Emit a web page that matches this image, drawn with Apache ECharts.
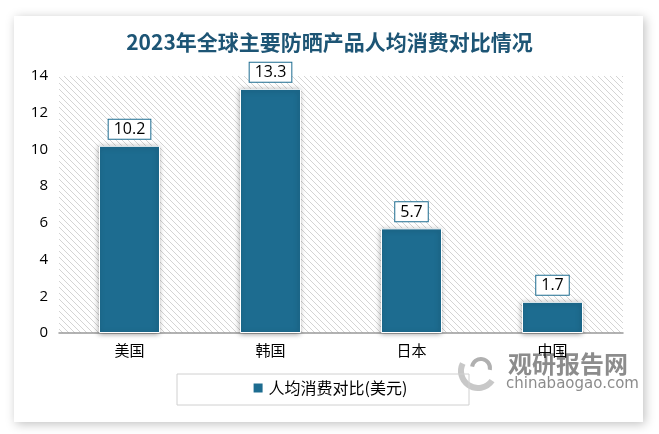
<!DOCTYPE html>
<html><head><meta charset="utf-8">
<script src="https://cdn.jsdelivr.net/npm/echarts@6/dist/echarts.min.js"></script>
<style>html,body{margin:0;padding:0;background:#fff}#c{width:659px;height:434px}</style>
</head><body><div id="c"></div>
<script>
const titleText = '2023年全球主要防晒产品人均消费对比情况';
const categories = ['美国', '韩国', '日本', '中国'];
const values = [10.2, 13.3, 5.7, 1.7];
const seriesName = '人均消费对比(美元)';
const yTicks = [0, 2, 4, 6, 8, 10, 12, 14];

function hatch() {
  const c = document.createElement('canvas');
  c.width = 6; c.height = 6;
  const g = c.getContext('2d');
  g.fillStyle = '#ffffff'; g.fillRect(0, 0, 6, 6);
  g.strokeStyle = '#d4d4d4'; g.lineWidth = 1;
  g.beginPath();
  g.moveTo(0, 0); g.lineTo(6, 6);
  g.moveTo(-3, 3); g.lineTo(3, 9);
  g.moveTo(3, -3); g.lineTo(9, 3);
  g.stroke();
  return c;
}

const chart = echarts.init(document.getElementById('c'));
chart.setOption({
  animation: false,
  graphic: [
    { type: 'rect', z: -10, shape: { x: 14, y: 16, width: 629, height: 406 },
      style: { fill: '#fff', shadowBlur: 10, shadowColor: 'rgba(0,0,0,0.25)', shadowOffsetX: 2, shadowOffsetY: 2 } },
    { type: 'rect', z: 1, shape: { x: 177, y: 374, width: 292, height: 31 },
      style: { fill: 'none', stroke: '#d0d0d0', lineWidth: 1 } },
    { type: 'group', z: 0, children: [
      { type: 'arc', shape: { cx: 478, cy: 371, r: 17, startAngle: 0.6, endAngle: 3.6 },
        style: { stroke: '#c8c8c8', lineWidth: 6, fill: 'none' } },
      { type: 'arc', shape: { cx: 481, cy: 368, r: 9, startAngle: 3.3, endAngle: 6.5 },
        style: { stroke: '#b0b0b0', lineWidth: 4, fill: 'none' } },
      { type: 'text', style: { x: 508, y: 352, text: '观研报告网', fill: '#8c8c8c', font: 'bold 24px "Noto Sans CJK SC"' } },
      { type: 'text', style: { x: 506, y: 377, text: 'chinabaogao.com', fill: '#8c8c8c', font: '15px "DejaVu Sans"' } }
    ]}
  ],
  title: {
    text: titleText, left: 'center', top: 27,
    textStyle: { fontSize: 21, fontWeight: 'bold', color: '#1d5575', fontFamily: '"Noto Sans CJK SC"' }
  },
  legend: {
    bottom: 33, left: 'center', itemWidth: 11, itemHeight: 11, icon: 'rect', itemGap: 5,
    textStyle: { fontSize: 16, color: '#000', fontFamily: '"Noto Sans CJK SC"' }
  },
  grid: {
    left: 59, right: 36, top: 76, bottom: 101, show: true, borderWidth: 0,
    backgroundColor: { image: hatch(), repeat: 'repeat' }
  },
  xAxis: {
    type: 'category', data: categories,
    axisLine: { lineStyle: { color: '#999', width: 1.5 } },
    axisTick: { show: false },
    axisLabel: { fontSize: 15, color: '#000', margin: 10, fontFamily: '"Noto Sans CJK SC"' }
  },
  yAxis: {
    type: 'value', min: 0, max: 14, interval: 2,
    axisLine: { show: false }, axisTick: { show: false }, splitLine: { show: false },
    axisLabel: { fontSize: 15, color: '#000', margin: 11, fontFamily: '"Open Sans"',
      formatter: v => yTicks.includes(v) ? String(v) : '' }
  },
  series: [{
    name: seriesName, type: 'bar', data: values, barWidth: 61,
    itemStyle: { color: '#1d6c90', borderColor: '#fff', borderWidth: 1,
      shadowBlur: 5, shadowColor: 'rgba(0,0,0,0.35)', shadowOffsetX: -1, shadowOffsetY: 1 },
    label: {
      show: true, position: 'top', distance: 7, fontSize: 16, color: '#000',
      fontFamily: '"Open Sans"',
      backgroundColor: '#fff', borderColor: '#1d6c90', borderWidth: 1, padding: [2, 5, 1, 5]
    }
  }]
});
</script></body></html>
